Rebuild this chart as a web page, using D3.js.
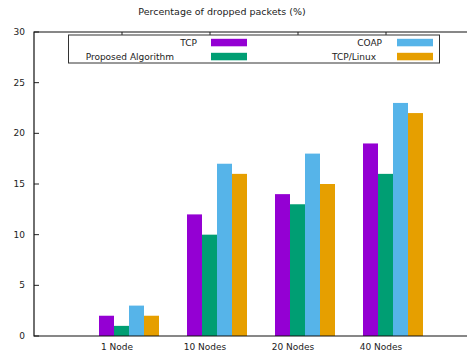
<!DOCTYPE html>
<html>
<head>
<meta charset="utf-8">
<script src="https://cdn.jsdelivr.net/npm/d3@7"></script>
<style>
  body { margin: 0; background: #fff; }
  text { font-family: "DejaVu Sans", sans-serif; font-size: 9px; fill: #222; }
  .title { font-size: 9.5px; }
</style>
</head>
<body>
<div class="chart"></div>
<script>
var categories = ["1 Node", "10 Nodes", "20 Nodes", "40 Nodes"];
var seriesNames = ["TCP", "Proposed Algorithm", "COAP", "TCP/Linux"];
var tcp = [2, 12, 14, 19];
var proposed = [1, 10, 13, 16];
var coap = [3, 17, 18, 23];
var tcpLinux = [2, 16, 15, 22];
var yTicks = [0, 5, 10, 15, 20, 25, 30];

var colors = ["#9400d3", "#009e73", "#56b4e9", "#e69f00"];
var series = [tcp, proposed, coap, tcpLinux];

var svgWidth = 467;
var svgHeight = 354;
// plot frame (note: "top" would clash with window.top)
var plotLeft = 34, plotTop = 32, plotBottom = 336, plotRight = 467;

var svg = d3.select(".chart")
  .append("svg")
  .attr("width", svgWidth)
  .attr("height", svgHeight);

// scales
var yScale = d3.scaleLinear().domain([0, 30]).range([plotBottom, plotTop]);

var xGroup = d3.scaleBand()
  .domain(categories)
  .range([85, 85 + 88 * categories.length])
  .paddingInner(28 / 88)
  .paddingOuter(14 / 88);

var xBar = d3.scaleBand()
  .domain(d3.range(series.length))
  .range([0, xGroup.bandwidth()]);

// tick positions for categories (gnuplot puts them a bit left of cluster centre)
var tickX = function(c) { return xGroup(c) + 23; };

// y ticks
svg.append("g").selectAll("line")
  .data(yTicks)
  .enter().append("line")
  .attr("x1", plotLeft).attr("x2", plotLeft + 5)
  .attr("y1", function(d) { return yScale(d); })
  .attr("y2", function(d) { return yScale(d); })
  .attr("stroke", "#222");

svg.append("g").selectAll("text")
  .data(yTicks)
  .enter().append("text")
  .attr("x", 25)
  .attr("y", function(d) { return yScale(d); })
  .attr("dy", "0.35em")
  .attr("text-anchor", "end")
  .text(function(d) { return d; });

// mirrored x ticks on top border
svg.append("g").selectAll("line")
  .data(categories)
  .enter().append("line")
  .attr("x1", tickX).attr("x2", tickX)
  .attr("y1", plotTop).attr("y2", plotTop + 5)
  .attr("stroke", "#222");

// bars
var groups = svg.append("g").selectAll("g")
  .data(categories)
  .enter().append("g")
  .attr("transform", function(c) { return "translate(" + xGroup(c) + ",0)"; });

groups.selectAll("rect")
  .data(function(c, i) { return series.map(function(s, j) { return { k: j, v: s[i] }; }); })
  .enter().append("rect")
  .attr("x", function(d) { return xBar(d.k); })
  .attr("width", xBar.bandwidth())
  .attr("y", function(d) { return yScale(d.v); })
  .attr("height", function(d) { return plotBottom - yScale(d.v); })
  .attr("fill", function(d) { return colors[d.k]; });

// category labels
svg.append("g").selectAll("text")
  .data(categories)
  .enter().append("text")
  .attr("x", function(c) { return tickX(c) - 5; })
  .attr("y", 347)
  .attr("dy", "0.35em")
  .attr("text-anchor", "middle")
  .text(function(d) { return d; });

// border: left, top, bottom (right side runs off the canvas)
svg.append("path")
  .attr("d", "M" + plotRight + "," + plotTop + "H" + plotLeft + "V" + plotBottom + "H" + plotRight)
  .attr("fill", "none")
  .attr("stroke", "#111")
  .attr("stroke-width", 1.2);

// title
svg.append("text")
  .attr("class", "title")
  .attr("x", 222)
  .attr("y", 12)
  .attr("dy", "0.35em")
  .attr("text-anchor", "middle")
  .text("Percentage of dropped packets (%)");

// legend
var legend = svg.append("g");
legend.append("rect")
  .attr("x", 68.5).attr("y", 35)
  .attr("width", 371).attr("height", 28)
  .attr("fill", "#fff")
  .attr("stroke", "#333");

var legendPos = [
  { tx: 197, sx: 211, y: 42.5 },
  { tx: 174, sx: 211, y: 56.5 },
  { tx: 382, sx: 397, y: 42.5 },
  { tx: 376, sx: 397, y: 56.5 }
];

seriesNames.forEach(function(name, i) {
  var p = legendPos[i];
  legend.append("text")
    .attr("x", p.tx).attr("y", p.y)
    .attr("dy", "0.35em")
    .attr("text-anchor", "end")
    .text(name);
  legend.append("rect")
    .attr("x", p.sx).attr("y", p.y - 3.7)
    .attr("width", 36).attr("height", 7.5)
    .attr("fill", colors[i]);
});
</script>
</body>
</html>
